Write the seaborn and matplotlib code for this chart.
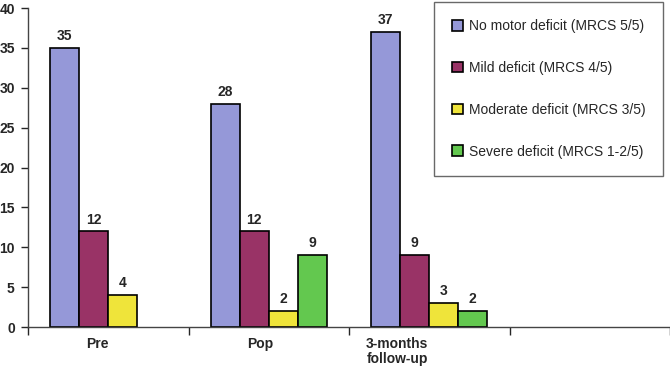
import matplotlib
matplotlib.use("Agg")
import matplotlib.pyplot as plt
import pandas as pd
import numpy as np
import seaborn as sns

sns.set_style("white")
plt.rcParams['font.family'] = ['Liberation Sans', 'DejaVu Sans']

## Data
groups = ["Pre", "Pop", "3-months\nfollow-up", ""]
group_labels = ["Pre", "Pop", "3-months\nfollow-up"]
label_pos = [0.43 - 0.5, 1.445 - 0.5, 2.30 - 0.5]
categories = ["No motor deficit (MRCS 5/5)", "Mild deficit (MRCS 4/5)",
              "Moderate deficit (MRCS 3/5)", "Severe deficit (MRCS 1-2/5)"]
no_motor = [35, 28, 37]
mild = [12, 12, 9]
moderate = [4, 2, 3]
severe = [None, 9, 2]
colors = ["#9598d8", "#993366", "#efe43a", "#63c84f"]

rows = []
for cat, vals in zip(categories, [no_motor, mild, moderate, severe]):
    for g, v in zip(group_labels, vals):
        if v is not None:
            rows.append({"Group": g, "Category": cat, "Count": v})
df = pd.DataFrame(rows)

fig = plt.figure(figsize=(6.7, 3.68), dpi=100)
ax = fig.add_axes([0.0418, 0.1114, 0.9582, 0.8666])

sns.barplot(data=df, x="Group", y="Count", hue="Category", order=groups,
            hue_order=categories, palette=colors, width=0.72, dodge=True,
            saturation=1, edgecolor="black", linewidth=1.2, errorbar=None, ax=ax)

## Value labels
for cont in ax.containers:
    for bar in cont:
        h = bar.get_height()
        if np.isnan(h):
            continue
        ax.text(bar.get_x() + bar.get_width() / 2, h + 0.6, "%d" % h,
                ha="center", va="bottom", fontsize=10, fontweight="bold")

ax.set_xlim(-0.5, 3.5)
ax.set_ylim(0, 40)
ax.set_yticks(range(0, 41, 5))
ax.set_xticks(np.arange(-0.5, 3.6, 1))
ax.set_xticklabels([])
ax.set_xlabel("")
ax.set_ylabel("")
for lbl in ax.get_yticklabels():
    lbl.set_fontweight("bold")
ax.tick_params(axis="y", direction="out", length=5, width=1, labelsize=10, pad=4.5, left=True)
ax.tick_params(axis="x", direction="out", length=6, width=1, bottom=True)

for x, lab in zip(label_pos, group_labels):
    ax.text(x, -1.3, lab, ha="center", va="top", fontsize=10, fontweight="bold",
            linespacing=1.1)

for s in ["top", "right"]:
    ax.spines[s].set_visible(False)
for s in ["left", "bottom"]:
    ax.spines[s].set_color("#444444")
    ax.spines[s].set_linewidth(1)

leg = ax.legend(loc="upper left", bbox_to_anchor=(0.648, 0.995),
                bbox_transform=fig.transFigure, borderaxespad=0,
                fontsize=10, labelspacing=2.0, handlelength=0.8,
                handleheight=0.8, handletextpad=0.45, borderpad=1.25,
                frameon=True, fancybox=False, title=None)
leg.get_frame().set_edgecolor("#444444")
leg.get_frame().set_linewidth(1)

fig.savefig("out.png", dpi=100)
